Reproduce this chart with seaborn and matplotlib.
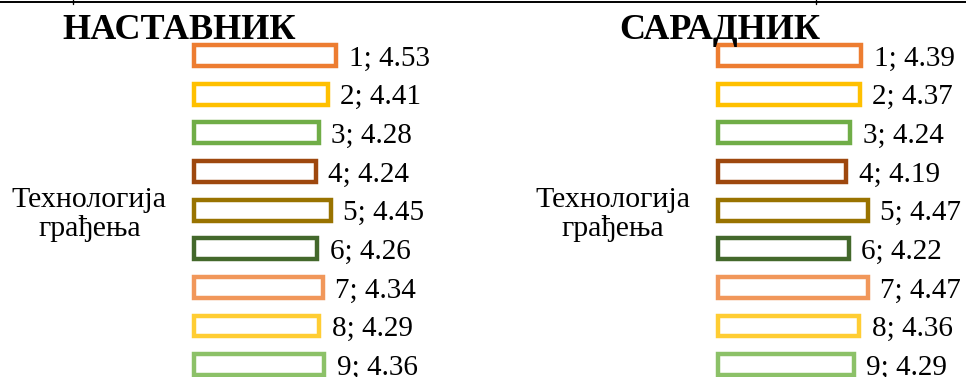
import matplotlib
matplotlib.use("Agg")
import matplotlib.pyplot as plt
import seaborn as sns
import pandas as pd
from matplotlib.lines import Line2D

# ---- data ----
category = "Технологија\nграђења"
series = ["1", "2", "3", "4", "5", "6", "7", "8", "9"]
mentor_values = [4.53, 4.41, 4.28, 4.24, 4.45, 4.26, 4.34, 4.29, 4.36]
associate_values = [4.39, 4.37, 4.24, 4.19, 4.47, 4.22, 4.47, 4.36, 4.29]
titles = ["НАСТАВНИК", "САРАДНИК"]
colors = ["#ED7D31", "#FFC000", "#70AD47", "#9E480E", "#997300",
          "#43682B", "#F1975A", "#FFCD33", "#8CC168"]

sns.set_theme(style="white")
plt.rcParams["font.family"] = ["Liberation Serif", "DejaVu Serif"]

W, H, DPI = 966, 377, 100
fig = plt.figure(figsize=(W / DPI, H / DPI), dpi=DPI)
fig.patch.set_facecolor("white")

BASE = 2.5   # axis minimum (bars start here)
XMAX = 5.5
panels = [
    dict(values=mentor_values, title=titles[0], left=194.0, pxu=70.0, tx=179.2),
    dict(values=associate_values, title=titles[1], left=717.8, pxu=76.0, tx=719.7),
]
ytop, yh = -7.3, 434.8

for p in panels:
    width_px = p["pxu"] * (XMAX - BASE)
    ax = fig.add_axes([p["left"] / W, (H - (ytop + yh)) / H, width_px / W, yh / H])
    ax.set_facecolor("none")
    df = pd.DataFrame({"cat": [category] * len(series), "series": series, "value": p["values"]})
    sns.barplot(data=df, x="value", y="cat", hue="series", orient="h",
                palette=colors, fill=False, gap=0.46, linewidth=3.2,
                errorbar=None, legend=False, ax=ax)
    # bars start at the axis minimum, as in the source chart
    for patch in ax.patches:
        w = patch.get_x() + patch.get_width()
        patch.set_x(BASE)
        patch.set_width(w - BASE)
        patch.set_clip_on(False)
        patch.set_joinstyle("miter")
    ax.set_xlim(BASE, XMAX)
    ax.set_ylim(0.5, -0.5)
    for cont, s, v in zip(ax.containers, series, p["values"]):
        anns = ax.bar_label(cont, labels=[f"{s}; {v:.2f}"], padding=9, fontsize=21,
                            color="black")
        for a in anns:
            a.set_va("center_baseline")
    ax.set_xticks([])
    ax.set_xlabel("")
    ax.set_ylabel("")
    ax.tick_params(axis="y", length=0, pad=19.5, labelsize=21.5, labelcolor="black")
    for lbl in ax.get_yticklabels():
        lbl.set_multialignment("center")
        lbl.set_linespacing(1.12)
    for sp in ax.spines.values():
        sp.set_visible(False)
    fig.text(p["tx"] / W, 1 - 39.3 / H, p["title"], ha="center", va="baseline",
             fontsize=26, fontweight="bold", color="black")

# table border fragments at the top of the crop
fig.add_artist(Line2D([0, 1], [1 - 1.5 / H] * 2, color="black", lw=1.4,
                      transform=fig.transFigure))
for xv in (73, 816):
    fig.add_artist(Line2D([xv / W] * 2, [1, 1 - 4 / H], color="black", lw=1.0,
                          transform=fig.transFigure))

fig.savefig("out.png", dpi=DPI)
